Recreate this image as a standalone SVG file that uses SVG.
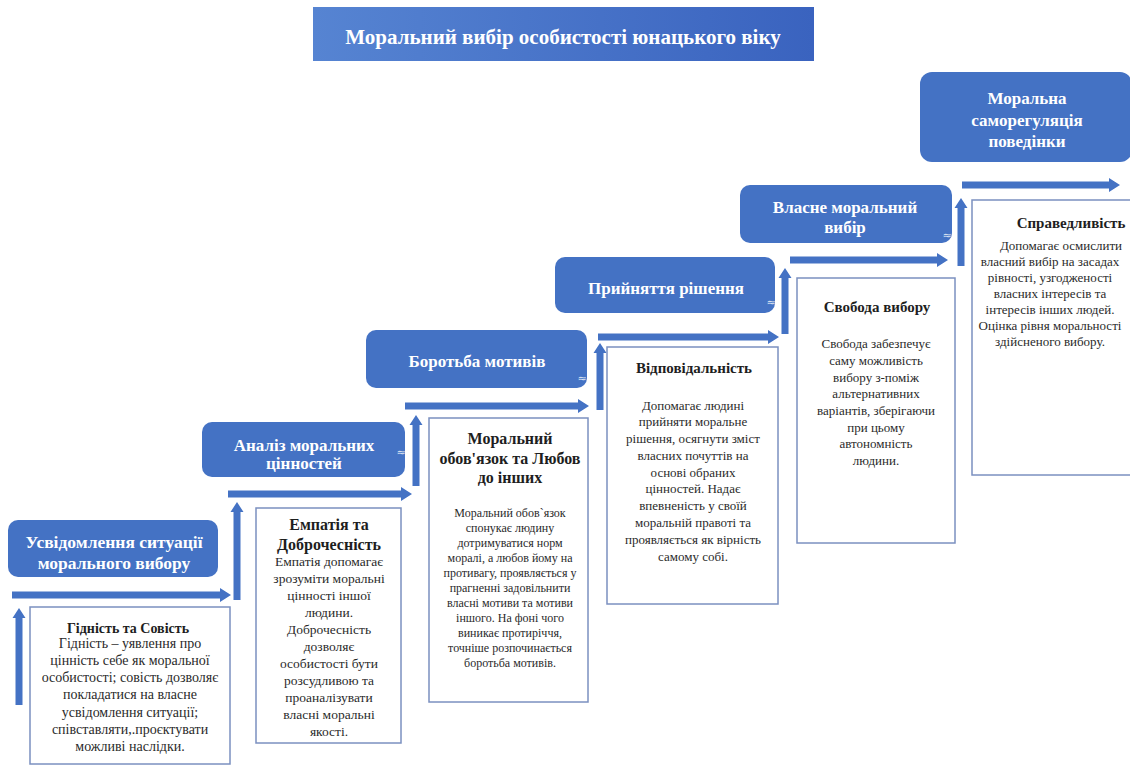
<svg xmlns="http://www.w3.org/2000/svg" width="1130" height="767" viewBox="0 0 1130 767">
  <defs>
    <linearGradient id="titleGrad" x1="0" y1="0" x2="1" y2="0">
      <stop offset="0" stop-color="#5684d2"/>
      <stop offset="1" stop-color="#3a63bf"/>
    </linearGradient>
    <style>
      .step { fill: #4472c4; }
      .steptxt { font-family: "Liberation Serif", "Times New Roman", serif; font-weight: bold; font-size: 17px; fill: #ffffff; text-anchor: middle; }
      .titletxt { font-family: "Liberation Serif", "Times New Roman", serif; font-weight: bold; font-size: 21px; fill: #ffffff; text-anchor: middle; }
      .card { fill: #ffffff; stroke: #7b90c0; stroke-width: 1.5; }
      .head { font-family: "Liberation Serif", "Times New Roman", serif; font-weight: bold; fill: #1e1e1e; text-anchor: middle; }
      .body { font-family: "Liberation Serif", "Times New Roman", serif; fill: #2a2a2a; text-anchor: middle; }
      .arrow { fill: #4472c4; }
      .mark { font-family: "DejaVu Sans", sans-serif; font-size: 11px; fill: #dfe6f3; text-anchor: middle; }
    </style>
  </defs>
  <rect width="1130" height="767" fill="#ffffff"/>

  <g id="title">
    <rect x="313" y="7" width="501" height="54" fill="url(#titleGrad)"/>
    <text x="563" y="44" class="titletxt">Моральний вибір особистості юнацького віку</text>
  </g>

  <g id="connectors">
    <path class="arrow" d="M12 591.5 H220 V588 L231 595 L220 602 V598.5 H12 Z"/>
    <path class="arrow" d="M228 490.5 H401 V487 L412 494 L401 501 V497.5 H228 Z"/>
    <path class="arrow" d="M405 402.5 H578 V399 L589 406 L578 413 V409.5 H405 Z"/>
    <path class="arrow" d="M598 333.5 H768 V330 L779 337 L768 344 V340.5 H598 Z"/>
    <path class="arrow" d="M790 256.5 H937 V253 L948 260 L937 267 V263.5 H790 Z"/>
    <path class="arrow" d="M962 181.5 H1109 V178 L1120 185 L1109 192 V188.5 H962 Z"/>
    <path class="arrow" d="M15.5 705 V618 H12.5 L19 608 L25.5 618 H22.5 V705 Z"/>
    <path class="arrow" d="M233.5 600 V512 H230.5 L237 502 L243.5 512 H240.5 V600 Z"/>
    <path class="arrow" d="M412.5 486 V425 H409.5 L416 415 L422.5 425 H419.5 V486 Z"/>
    <path class="arrow" d="M596.5 410 V353 H593.5 L600 343 L606.5 353 H603.5 V410 Z"/>
    <path class="arrow" d="M781.5 334 V278 H778.5 L785 268 L791.5 278 H788.5 V334 Z"/>
    <path class="arrow" d="M957.5 266 V208 H954.5 L961 198 L967.5 208 H964.5 V266 Z"/>
  </g>

  <g id="step1">
    <rect class="step" x="8" y="520" width="210" height="57" rx="10"/>
    <text class="steptxt" x="114" y="548" style="font-size:17.5px">Усвідомлення ситуації</text>
    <text class="steptxt" x="114" y="569" style="font-size:17.5px">морального вибору</text>
  </g>
  <g id="step2">
    <rect class="step" x="202" y="422" width="203" height="55" rx="10"/>
    <text class="steptxt" x="304" y="451">Аналіз моральних</text>
    <text class="steptxt" x="304" y="469">цінностей</text>
    <text class="mark" x="401" y="456">≈</text>
  </g>
  <g id="step3">
    <rect class="step" x="366" y="330" width="221" height="58" rx="10"/>
    <text class="steptxt" x="477" y="367">Боротьба мотивів</text>
    <text class="mark" x="582" y="382">≈</text>
  </g>
  <g id="step4">
    <rect class="step" x="555" y="257" width="220" height="56" rx="10"/>
    <text class="steptxt" x="666" y="294">Прийняття рішення</text>
    <text class="mark" x="771" y="306">≈</text>
  </g>
  <g id="step5">
    <rect class="step" x="740" y="185" width="212" height="58" rx="10"/>
    <text class="steptxt" x="845" y="213">Власне моральний</text>
    <text class="steptxt" x="845" y="233">вибір</text>
    <text class="mark" x="947" y="239">≈</text>
  </g>
  <g id="step6">
    <rect class="step" x="920" y="72" width="212" height="90" rx="12"/>
    <text class="steptxt" x="1027" y="104">Моральна</text>
    <text class="steptxt" x="1027" y="126">саморегуляція</text>
    <text class="steptxt" x="1027" y="147">поведінки</text>
  </g>

  <g id="card1">
    <rect class="card" x="30" y="607" width="200" height="157"/>
    <text class="head" x="128" y="633" font-size="14">Гідність та Совість</text>
    <g class="body" font-size="14">
      <text x="130" y="648">Гідність – уявлення про</text>
      <text x="130" y="665">цінність себе як моральної</text>
      <text x="130" y="682">особистості; совість дозволяє</text>
      <text x="130" y="699">покладатися на власне</text>
      <text x="130" y="717">усвідомлення ситуації;</text>
      <text x="130" y="734">співставляти,.проєктувати</text>
      <text x="130" y="751">можливі наслідки.</text>
    </g>
  </g>

  <g id="card2">
    <rect class="card" x="256" y="508" width="145" height="235"/>
    <text class="head" x="329" y="530" font-size="16">Емпатія та</text>
    <text class="head" x="329" y="550" font-size="16">Доброчесність</text>
    <g class="body" font-size="13.5">
      <text x="329" y="566">Емпатія допомагає</text>
      <text x="329" y="583">зрозуміти моральні</text>
      <text x="329" y="600">цінності іншої</text>
      <text x="329" y="617">людини.</text>
      <text x="329" y="634">Доброчесність</text>
      <text x="329" y="651">дозволяє</text>
      <text x="329" y="668">особистості бути</text>
      <text x="329" y="685">розсудливою та</text>
      <text x="329" y="702">проаналізувати</text>
      <text x="329" y="719">власні моральні</text>
      <text x="329" y="736">якості.</text>
    </g>
  </g>

  <g id="card3">
    <rect class="card" x="429" y="418" width="159" height="284"/>
    <text class="head" x="510" y="444" font-size="16">Моральний</text>
    <text class="head" x="510" y="464" font-size="16">обов'язок та Любов</text>
    <text class="head" x="510" y="483" font-size="16">до інших</text>
    <g class="body" font-size="12">
      <text x="510" y="517">Моральний обов`язок</text>
      <text x="510" y="532">спонукає людину</text>
      <text x="510" y="547">дотримуватися норм</text>
      <text x="510" y="562">моралі, а любов йому на</text>
      <text x="510" y="577">противагу, проявляється у</text>
      <text x="510" y="592">прагненні задовільнити</text>
      <text x="510" y="607">власні мотиви та мотиви</text>
      <text x="510" y="622">іншого. На фоні чого</text>
      <text x="510" y="637">виникає протиріччя,</text>
      <text x="510" y="652">точніше розпочинається</text>
      <text x="510" y="667">боротьба мотивів.</text>
    </g>
  </g>

  <g id="card4">
    <rect class="card" x="607" y="347" width="171" height="257"/>
    <text class="head" x="694" y="373" font-size="15">Відповідальність</text>
    <g class="body" font-size="13">
      <text x="693" y="410">Допомагає людині</text>
      <text x="693" y="426">прийняти моральне</text>
      <text x="693" y="443">рішення, осягнути зміст</text>
      <text x="693" y="460">власних почуттів на</text>
      <text x="693" y="477">основі обраних</text>
      <text x="693" y="493">цінностей. Надає</text>
      <text x="693" y="510">впевненість у своїй</text>
      <text x="693" y="527">моральній правоті та</text>
      <text x="693" y="544">проявляється як вірність</text>
      <text x="693" y="561">самому собі.</text>
    </g>
  </g>

  <g id="card5">
    <rect class="card" x="797" y="278" width="158" height="265"/>
    <text class="head" x="877" y="312" font-size="15">Свобода вибору</text>
    <g class="body" font-size="13">
      <text x="876" y="348">Свобода забезпечує</text>
      <text x="876" y="365">саму можливість</text>
      <text x="876" y="382">вибору з-поміж</text>
      <text x="876" y="398">альтернативних</text>
      <text x="876" y="415">варіантів, зберігаючи</text>
      <text x="876" y="432">при цьому</text>
      <text x="876" y="448">автономність</text>
      <text x="876" y="465">людини.</text>
    </g>
  </g>

  <g id="card6">
    <rect class="card" x="972" y="200" width="170" height="275"/>
    <text class="head" x="1071" y="228" font-size="15">Справедливість</text>
    <g class="body" font-size="13">
      <text x="1061" y="250">Допомагає осмислити</text>
      <text x="1050" y="266">власний вибір на засадах</text>
      <text x="1050" y="282">рівності, узгодженості</text>
      <text x="1050" y="298">власних інтересів та</text>
      <text x="1050" y="314">інтересів інших людей.</text>
      <text x="1050" y="330">Оцінка рівня моральності</text>
      <text x="1050" y="346">здійсненого вибору.</text>
    </g>
  </g>
</svg>
